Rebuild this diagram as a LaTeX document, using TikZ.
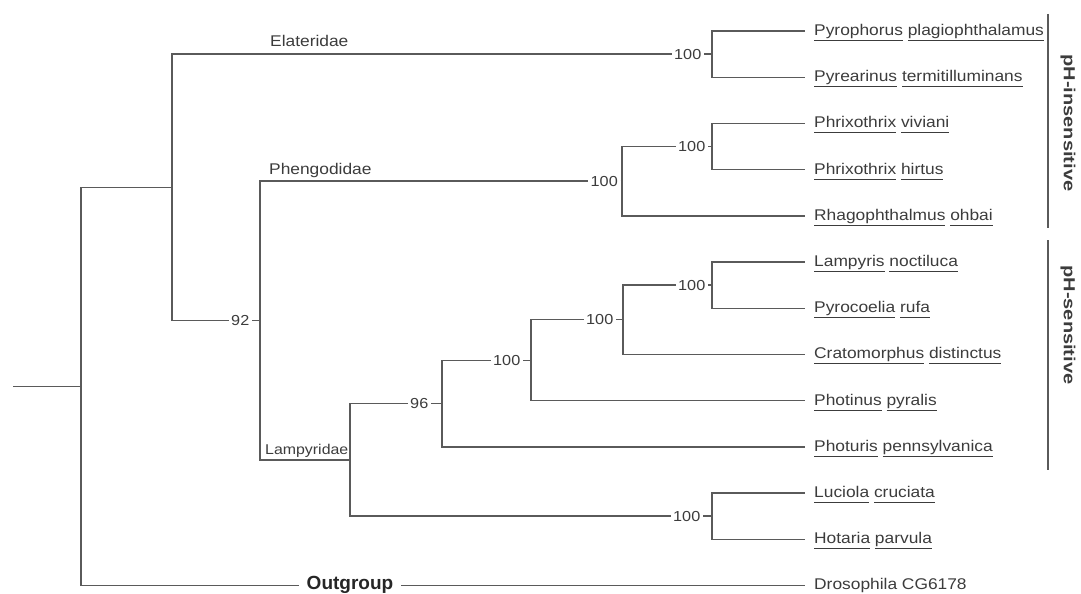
\documentclass[tikz,border=0pt]{standalone}
\usepackage{fontspec}
\setmainfont{Liberation Sans}
\newfontfamily\labf[FakeStretch=1.12]{Liberation Sans}
\newfontfamily\phf[FakeStretch=1.25]{Liberation Sans}
\definecolor{ln}{HTML}{5A5A5A}
\definecolor{tx}{HTML}{3C3C3C}
\newcommand\uw[1]{\underline{#1\vphantom{y}}}
\begin{document}
\begin{tikzpicture}[x=1pt,y=-1pt,
  br/.style={draw=ln,line width=1.4pt},
  grpline/.style={draw=ln,line width=1.3pt},
  leaf/.style={anchor=base west,inner sep=0pt,text=tx,font=\labf\fontsize{15.5}{18}\selectfont},
  bs/.style={anchor=east,inner xsep=2.5pt,inner ysep=0pt,text depth=0pt,text=tx,font=\labf\fontsize{14.5}{17}\selectfont},
  clade/.style={anchor=base west,inner sep=0pt,text=tx,font=\labf\fontsize{15.5}{18}\selectfont},
  outg/.style={inner xsep=8pt,inner ysep=0pt,text depth=0pt,text=black!85,font=\bfseries\fontsize{19}{21}\selectfont},
  grp/.style={rotate=-90,inner sep=0pt,text=tx,font=\phf\bfseries\fontsize{16}{19}\selectfont},
]
\useasboundingbox (0,0) rectangle (1081,594);
% leaf tips
\foreach \i/\y in {1/31,2/77.2,3/123.4,4/169.6,5/215.8,6/262,7/308.2,8/354.4,9/400.6,10/446.8,11/493,12/539.2,13/585.4}{
  \coordinate (t\i) at (805,\y);
}
% leaf labels
\node[leaf] (L1) at (814,35.5) {\uw{Pyrophorus} \uw{plagiophthalamus}};
\node[leaf] (L2) at (814,81.7) {\uw{Pyrearinus} \uw{termitilluminans}};
\node[leaf] (L3) at (814,127.9) {\uw{Phrixothrix} \uw{viviani}};
\node[leaf] (L4) at (814,174.1) {\uw{Phrixothrix} \uw{hirtus}};
\node[leaf] (L5) at (814,220.3) {\uw{Rhagophthalmus} \uw{ohbai}};
\node[leaf] (L6) at (814,266.5) {\uw{Lampyris} \uw{noctiluca}};
\node[leaf] (L7) at (814,312.7) {\uw{Pyrocoelia} \uw{rufa}};
\node[leaf] (L8) at (814,358.9) {\uw{Cratomorphus} \uw{distinctus}};
\node[leaf] (L9) at (814,405.1) {\uw{Photinus} \uw{pyralis}};
\node[leaf] (L10) at (814,451.3) {\uw{Photuris} \uw{pennsylvanica}};
\node[leaf] (L11) at (814,497.5) {\uw{Luciola} \uw{cruciata}};
\node[leaf] (L12) at (814,543.7) {\uw{Hotaria} \uw{parvula}};
\node[leaf] (L13) at (814,589.9) {Drosophila CG6178};
% internal nodes
\coordinate (nE) at (712,54.1);
\coordinate (nPh2) at (712,146.5);
\coordinate (nPh) at (622,181.15);
\coordinate (nLa4) at (712,285.1);
\coordinate (nLa3) at (623,319.75);
\coordinate (nLa2) at (531,360.2);
\coordinate (nLa1) at (442,403.5);
\coordinate (nLu) at (712,516.1);
\coordinate (nLa) at (350,459.8);
\coordinate (nPL) at (260,320.5);
\coordinate (nEP) at (172,187.3);
\coordinate (root) at (81,386.35);
\coordinate (stub) at (13,386.35);
% bootstrap labels
\node[bs] (bE) at (704,54.1) {100};
\node[bs] (b92) at (252,320.5) {92};
\node[bs] (bPh) at (620.5,181.15) {100};
\node[bs] (bPh2) at (708,146.5) {100};
\node[bs] (b96) at (431,403.5) {96};
\node[bs] (bLa2) at (523,360.2) {100};
\node[bs] (bLa3) at (616,319.75) {100};
\node[bs] (bLa4) at (708,285.1) {100};
\node[bs] (bLu) at (703,516.1) {100};
% clade names
\node[clade] (cE) at (270,47) {Elateridae};
\node[clade] (cP) at (269,174.5) {Phengodidae};
\node[clade,font=\labf\fontsize{14.2}{17}\selectfont] (cL) at (265,454.5) {Lampyridae};
\node[outg] (out) at (350,582.5) {Outgroup};
% branches
\draw[br] (stub) -- (root);
\draw[br] (root) |- (nEP);
\draw[br] (root) |- (out.west |- t13);
\draw[br] (out.east |- t13) -- (t13);
\draw[br] (nEP) |- (bE.west);
\draw[br] (bE.east) -- (nE);
\draw[br] (nEP) |- (b92.west);
\draw[br] (b92.east) -- (nPL);
\draw[br] (nE) |- (t1);
\draw[br] (nE) |- (t2);
\draw[br] (nPL) |- (bPh.west);
\draw[br] (bPh.east) -- (nPh);
\draw[br] (nPL) |- (nLa);
\draw[br] (nPh) |- (bPh2.west);
\draw[br] (bPh2.east) -- (nPh2);
\draw[br] (nPh) |- (t5);
\draw[br] (nPh2) |- (t3);
\draw[br] (nPh2) |- (t4);
\draw[br] (nLa) |- (b96.west);
\draw[br] (b96.east) -- (nLa1);
\draw[br] (nLa) |- (bLu.west);
\draw[br] (bLu.east) -- (nLu);
\draw[br] (nLa1) |- (bLa2.west);
\draw[br] (bLa2.east) -- (nLa2);
\draw[br] (nLa1) |- (t10);
\draw[br] (nLa2) |- (bLa3.west);
\draw[br] (bLa3.east) -- (nLa3);
\draw[br] (nLa2) |- (t9);
\draw[br] (nLa3) |- (bLa4.west);
\draw[br] (bLa4.east) -- (nLa4);
\draw[br] (nLa3) |- (t8);
\draw[br] (nLa4) |- (t6);
\draw[br] (nLa4) |- (t7);
\draw[br] (nLu) |- (t11);
\draw[br] (nLu) |- (t12);
% pH groups
\coordinate (gi1) at (1048,14);
\coordinate (gi2) at (1048,228);
\coordinate (gs1) at (1048,240);
\coordinate (gs2) at (1048,470);
\draw[grpline] (gi1) -- (gi2);
\draw[grpline] (gs1) -- (gs2);
\node[grp] (pHi) at (1068,123) {pH-insensitive};
\node[grp] (pHs) at (1068,325) {pH-sensitive};
\end{tikzpicture}
\end{document}
